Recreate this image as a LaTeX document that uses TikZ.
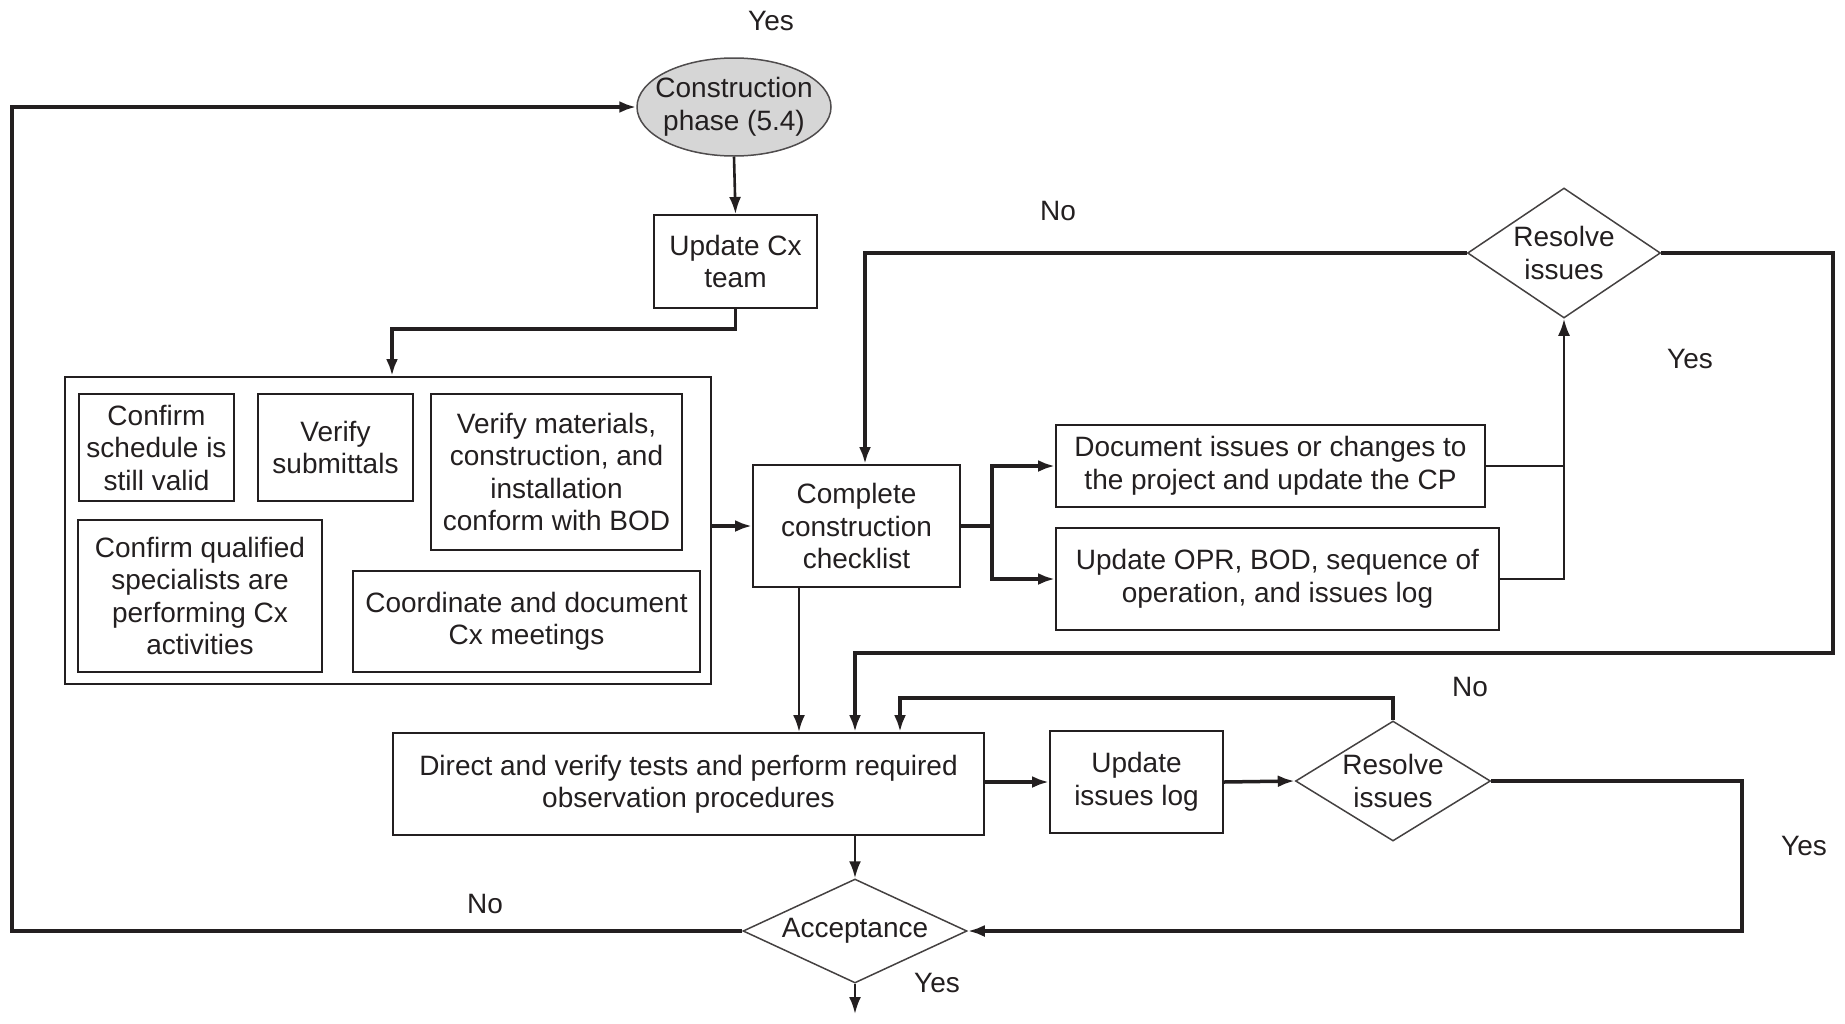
\documentclass[tikz,border=0pt]{standalone}
\usepackage{fontspec}
\setmainfont{Liberation Sans}
\usetikzlibrary{shapes.geometric,arrows.meta}
\definecolor{ink}{HTML}{231F20}
\begin{document}
\begin{tikzpicture}[x=1pt,y=-1pt,
  font=\fontsize{28}{32.5}\selectfont, text=ink,
  box/.style={draw=ink,line width=2pt,inner sep=0pt,align=center},
  dia/.style={diamond,draw=ink!85,line width=1.5pt,inner sep=0pt,align=center},
  flow/.style={line width=3.5pt,draw=ink},
  slim/.style={line width=2.6pt,draw=ink},
  arr/.style={-{Latex[length=17pt,width=12pt]}},
  lbl/.style={inner sep=0pt}]
\useasboundingbox (0,0) rectangle (1845,1023);

% start of the phase
\node[ellipse,draw=ink!80,line width=1.5pt,fill=gray!32,minimum width=194pt,minimum height=98pt] (phase) at (734,107) {};
\node[lbl,align=center] (phasetext) at (phase.center) {Construction\\phase (5.4)};
\node[box,minimum width=163pt,minimum height=93pt] (team) at (735.5,261.5) {Update Cx\\team};

% group of parallel activities
\node[box,minimum width=646pt,minimum height=307pt] (group) at (388,530.5) {};
\node[box,minimum width=155pt,minimum height=107pt] (sched) at (156.5,447.5) {Confirm\\schedule is\\still valid};
\node[box,minimum width=155pt,minimum height=107pt] (subm) at (335.5,447.5) {Verify\\submittals};
\node[box,minimum width=251pt,minimum height=156pt] (mat) at (556.5,472) {Verify materials,\\construction, and\\installation\\conform with BOD};
\node[box,minimum width=244pt,minimum height=152pt] (spec) at (200,596) {Confirm qualified\\specialists are\\performing Cx\\activities};
\node[box,minimum width=347pt,minimum height=101pt] (meet) at (526.5,621.5) {Coordinate and document\\Cx meetings};

% checklist branch
\node[box,minimum width=207pt,minimum height=122pt] (check) at (856.5,526) {Complete\\construction\\checklist};
\node[box,minimum width=429pt,minimum height=82pt] (doc) at (1270.5,466) {Document issues or changes to\\the project and update the CP};
\node[box,minimum width=443pt,minimum height=102pt] (opr) at (1277.5,579) {Update OPR, BOD, sequence of\\operation, and issues log};
\node[dia,aspect=1.48,minimum width=193pt,minimum height=130pt] (res1) at (1564,253) {Resolve\\issues};

% testing branch
\node[box,minimum width=591pt,minimum height=102pt] (direct) at (688.5,784) {Direct and verify tests and perform required\\observation procedures};
\node[box,minimum width=173pt,minimum height=102pt] (log) at (1136.5,782) {Update\\issues log};
\node[dia,aspect=1.62,minimum width=195pt,minimum height=120pt] (res2) at (1393,781) {Resolve\\issues};
\node[dia,aspect=2.15,minimum width=224pt,minimum height=104pt] (acc) at (855,931) {Acceptance};

% branch labels
\node[lbl] (y0) at (771,21) {Yes};
\node[lbl] (n1) at (1058,211) {No};
\node[lbl] (y1) at (1690,359) {Yes};
\node[lbl] (n2) at (1470,687) {No};
\node[lbl] (y2) at (1804,846) {Yes};
\node[lbl] (n3) at (485,904) {No};
\node[lbl] (y3) at (937,983) {Yes};

% turning points
\coordinate (j1) at (392,329);
\coordinate (j2) at (992,526);
\coordinate (lft) at (12,931);
\coordinate (rgt) at (1833,653);
\coordinate (c2) at (900,698);
\coordinate (c3) at (1742,931);
\coordinate (out) at (855,1014);
\coordinate (c1) at ([xshift=-57.5pt]check.south);

% connectors
\draw[flow,arr] (acc.west) -- (lft) |- (phase.west);
\draw[slim,arr] (phase.south) -- (team.north);
\draw[flow,arr] (team.south) |- (j1) -- (j1 |- group.north);
\draw[flow,arr] (group.east |- check.west) -- (check.west);
\draw[flow] (check.east) -- (j2);
\draw[flow,arr] (j2) |- (doc.west);
\draw[flow,arr] (j2) |- (opr.west);
\draw[slim] (doc.east) -- (doc.east -| res1.south);
\draw[slim,arr] (opr.east) -| (res1.south);
\draw[flow,arr] (res1.west) -| ([xshift=8.5pt]check.north);
\draw[flow,arr] (res1.east) -| (rgt) -| (acc.north |- direct.north);
\draw[slim,arr] (c1) -- (c1 |- direct.north);
\draw[flow,arr] (direct.east |- log.west) -- (log.west);
\draw[flow,arr] (log.east) -- (res2.west);
\draw[flow,arr] (res2.north) |- (c2) -- (c2 |- direct.north);
\draw[flow,arr] (res2.east) -| (c3) -- (acc.east);
\draw[slim,arr] (direct.south -| acc.north) -- (acc.north);
\draw[slim,arr] (acc.south) -- (out);
\end{tikzpicture}
\end{document}
